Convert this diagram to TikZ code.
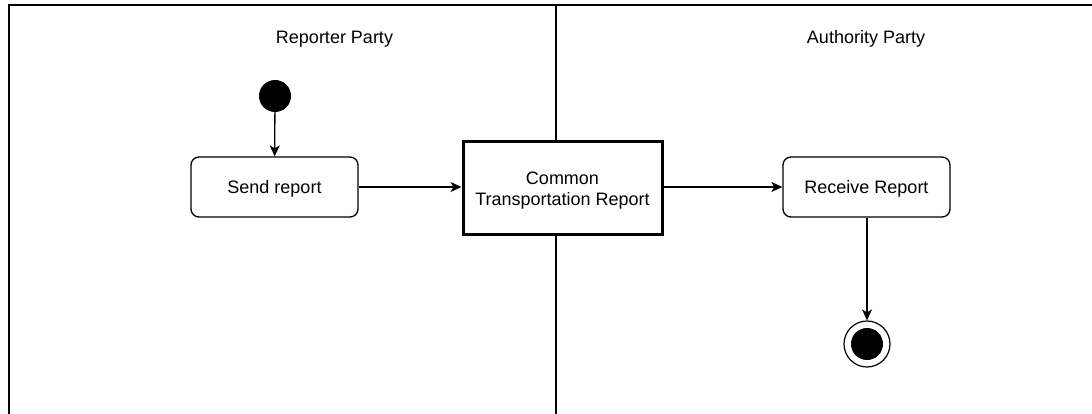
\documentclass[tikz,border=0pt]{standalone}
\usepackage{fontspec}
\setmainfont{Liberation Sans}
\usetikzlibrary{arrows.meta}
\begin{document}
\begin{tikzpicture}[x=1pt,y=-1pt,
  lane/.style={line width=2.6pt,draw=black},
  lanelabel/.style={font=\fontsize{18}{21}\selectfont,inner sep=0pt,anchor=center},
  action/.style={draw,line width=1.3pt,rounded corners=8pt,minimum width=167pt,minimum height=60pt,font=\fontsize{18}{21}\selectfont,inner sep=0pt,text height=16pt,text depth=3pt},
  objbox/.style={draw,line width=3pt,fill=white,minimum width=199pt,minimum height=92pt,align=center,font=\fontsize{18}{21}\selectfont,inner sep=0pt,text height=37pt,text depth=2pt},
  initstate/.style={circle,fill=black,minimum size=32pt,inner sep=0pt},
  finalouter/.style={circle,draw,line width=1.2pt,minimum size=46pt,inner sep=0pt},
  flow/.style={line width=1.3pt,-{Stealth[length=11pt,width=10pt,inset=3pt]}}
]
\useasboundingbox (0,0) rectangle (1092,414);
% swimlane frame
\draw[lane] (9,420) -- (9,5) -- (1100,5);
\draw[lane] (556,5) -- (556,420);
\node[lanelabel] (rp) at (334.5,39) {Reporter Party};
\node[lanelabel] (ap) at (866,39) {Authority Party};
% nodes
\node[initstate] (init) at (275,96) {};
\node[action] (send) at (274.5,187) {Send report};
\node[objbox] (ctr) at (562.5,188) {Common\\Transportation Report};
\node[action] (recv) at (866.5,187) {Receive Report};
\node[finalouter] (fin) at (867,344) {};
\node[initstate] (fincore) at (fin.center) {};
% flows
\draw[flow] (init) -- (send);
\draw[flow] (send.east) -- (send.east -| ctr.west);
\draw[flow] (ctr.east |- recv.west) -- (recv.west);
\draw[flow] (recv.south -| fin.north) -- (fin.north);
\end{tikzpicture}
\end{document}
